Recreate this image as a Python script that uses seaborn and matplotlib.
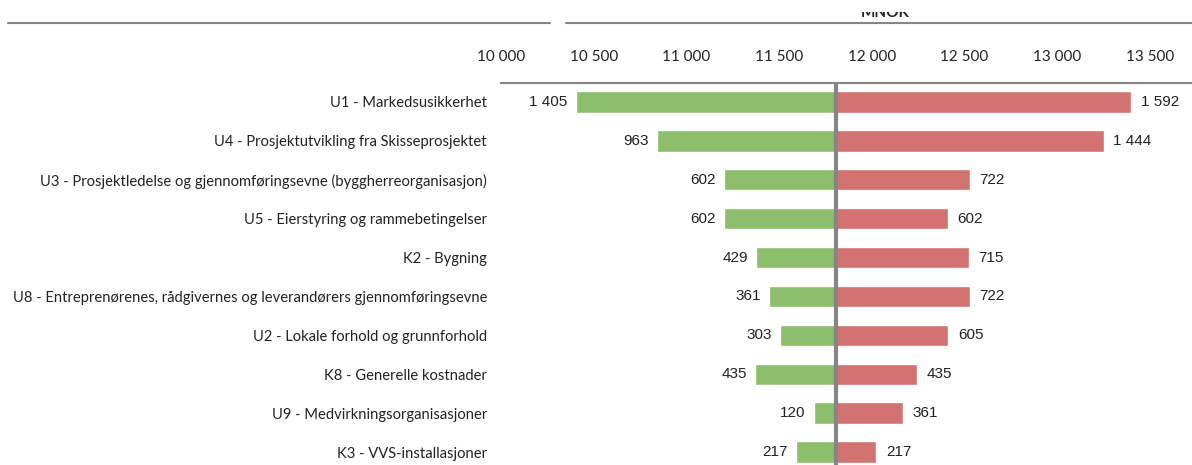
import matplotlib
matplotlib.use("Agg")
import matplotlib.pyplot as plt
from matplotlib.lines import Line2D
from matplotlib.patches import Rectangle
from matplotlib.ticker import FixedLocator, FuncFormatter
import numpy as np
import pandas as pd
import seaborn as sns

# Sensitivity (tornado) data, MNOK
categories = [
    "U1 - Markedsusikkerhet",
    "U4 - Prosjektutvikling fra Skisseprosjektet",
    "U3 - Prosjektledelse og gjennomføringsevne (byggherreorganisasjon)",
    "U5 - Eierstyring og rammebetingelser",
    "K2 - Bygning",
    "U8 - Entreprenørenes, rådgivernes og leverandørers gjennomføringsevne",
    "U2 - Lokale forhold og grunnforhold",
    "K8 - Generelle kostnader",
    "U9 - Medvirkningsorganisasjoner",
    "K3 - VVS-installasjoner",
]
low_impact = [1405, 963, 602, 602, 429, 361, 303, 435, 120, 217]
high_impact = [1592, 1444, 722, 602, 715, 722, 605, 435, 361, 217]
base_value = 11807
tick_values = [10000, 10500, 11000, 11500, 12000, 12500, 13000, 13500]
x_max = 13727

GREEN = "#8cbe6b"
RED = "#d27371"
GREY = "#868686"

sns.set_theme(style="white")
plt.rcParams["font.family"] = ["Lato", "DejaVu Sans"]

df = pd.concat([
    pd.DataFrame({"cat": categories, "delta": [-v for v in low_impact], "side": "low"}),
    pd.DataFrame({"cat": categories, "delta": high_impact, "side": "high"}),
])

W, H = 1192, 465
fig = plt.figure(figsize=(W / 100, H / 100), dpi=100)
ax_left = 501 / W
ax_top = 1 - 82.5 / H
ax_bottom = (H - 471.5) / H
ax = fig.add_axes([ax_left, ax_bottom, 1 - ax_left, ax_top - ax_bottom])

sns.barplot(data=df, y="cat", x="delta", hue="side", order=categories,
            hue_order=["low", "high"], palette={"low": GREEN, "high": RED},
            dodge=False, width=0.55, saturation=1, legend=False, ax=ax)

ax.axvline(0, color=GREY, lw=3, zorder=5)

ax.set_xlim(10000 - base_value, x_max - base_value)
ax.set_ylim(len(categories) - 0.5, -0.5)
ax.xaxis.set_major_locator(FixedLocator([t - base_value for t in tick_values]))
ax.xaxis.set_major_formatter(FuncFormatter(
    lambda v, _: f"{int(round(v + base_value)):,}".replace(",", " ")))
ax.xaxis.tick_top()
ax.tick_params(axis="x", length=0, pad=13, labelsize=11, labelcolor="#222222")
ax.tick_params(axis="y", length=0, pad=10, labelsize=10.6, labelcolor="#222222")
ax.set_xlabel("")
ax.set_ylabel("")
for s in ["bottom", "left", "right"]:
    ax.spines[s].set_visible(False)
ax.spines["top"].set_color(GREY)
ax.spines["top"].set_linewidth(1.5)

def fmt(v):
    return f"{v:,}".replace(",", " ")

for i, (lo, hi) in enumerate(zip(low_impact, high_impact)):
    ax.annotate(fmt(lo), (-lo, i), xytext=(-6, 0), textcoords="offset points",
                ha="right", va="center", fontsize=11, color="#222222",
                family="Liberation Sans")
    ax.annotate(fmt(hi), (hi, i), xytext=(7, 0), textcoords="offset points",
                ha="left", va="center", fontsize=11, color="#222222",
                family="Liberation Sans")

# Header rules and unit caption (caption sits partly under the page header)
y_rule = 1 - 23 / H
fig.add_artist(Line2D([8 / W, 550 / W], [y_rule, y_rule], color=GREY, lw=1.5))
fig.add_artist(Line2D([566 / W, 1.0], [y_rule, y_rule], color=GREY, lw=1.5))
fig.text(885 / W, 1 - 17 / H, "MNOK", ha="center", va="baseline",
         fontsize=11, fontweight="bold", color="#222222")
fig.add_artist(Rectangle((0, 1 - 12 / H), 1, 12 / H, transform=fig.transFigure,
                         facecolor="white", edgecolor="none", zorder=10))

fig.savefig("out.png", dpi=100)
